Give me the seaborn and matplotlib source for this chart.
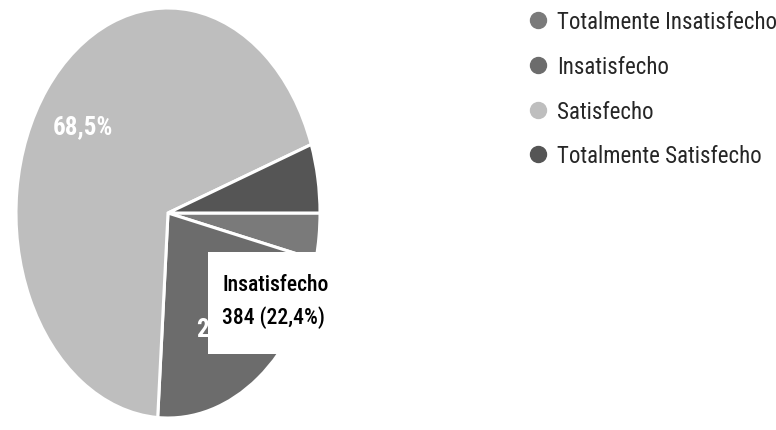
import matplotlib
matplotlib.use("Agg")
import matplotlib.pyplot as plt
import seaborn as sns
from matplotlib.lines import Line2D
from matplotlib.patches import Rectangle
from matplotlib import font_manager

# ---- data ----
categories = ["Totalmente Insatisfecho", "Insatisfecho", "Satisfecho", "Totalmente Satisfecho"]
counts = [63, 384, 1174, 93]
pct_labels = ["", "22,4%", "68,5%", ""]
tooltip_title = "Insatisfecho"
tooltip_value = "384 (22,4%)"

colors = ["#7a7a7a", "#6c6c6c", "#bebebe", "#555555"]

sns.set_theme(style="white")
names = {f.name for f in font_manager.fontManager.ttflist}
narrow = "DejaVu Sans"
for cand in ["Liberation Sans Narrow", "Roboto Condensed", "Archivo Narrow",
             "PT Sans Narrow", "Fira Sans Condensed", "Barlow Condensed"]:
    if cand in names:
        narrow = cand
        break
plt.rcParams["font.family"] = [narrow, "DejaVu Sans"]

W, H = 776, 431
fig = plt.figure(figsize=(W / 100, H / 100), dpi=100)
fig.patch.set_facecolor("white")

def fx(px):
    return px / W

def fy(py):
    return 1 - py / H

cx, cy, rx, ry = 168, 214, 152, 205
ax = fig.add_axes([fx(cx - rx), fy(cy + ry), 2 * rx / W, 2 * ry / H])
wedges, _ = ax.pie(counts, colors=colors, startangle=0, counterclock=False,
                   wedgeprops=dict(edgecolor="white", linewidth=2.2), radius=1)
for w in wedges:
    w.set_clip_on(False)
ax.set_aspect("auto")
ax.set_xlim(-1, 1)
ax.set_ylim(-1, 1)
ax.axis("off")

# slice percentage labels (white)
fig.text(fx(83), fy(127), pct_labels[2], color="white", fontsize=18,
         fontweight="bold", ha="center", va="center")
fig.text(fx(226), fy(329), pct_labels[1], color="white", fontsize=18,
         fontweight="bold", ha="center", va="center")

# tooltip box
box = Rectangle((fx(208), fy(355)), fx(345 - 208), (355 - 253) / H,
                transform=fig.transFigure, facecolor="white", edgecolor="none",
                zorder=5)
fig.patches.append(box)
fig.text(fx(222), fy(285), tooltip_title, color="black", fontsize=15.6,
         fontweight="medium", ha="left", va="center", zorder=6)
fig.text(fx(222), fy(318), tooltip_value, color="black", fontsize=15.6,
         fontweight="medium", ha="left", va="center", zorder=6)

# legend
handles = [Line2D([0], [0], marker="o", linestyle="none", markersize=11.5,
                  markerfacecolor=c, markeredgecolor=c) for c in colors]
leg = fig.legend(handles, categories, loc="upper left",
                 bbox_to_anchor=(fx(510), fy(-5)), frameon=False,
                 fontsize=16.5, labelspacing=0.95, handletextpad=0.35,
                 handlelength=1.0, borderpad=0.2)

fig.savefig("out.png", dpi=100, facecolor="white")
